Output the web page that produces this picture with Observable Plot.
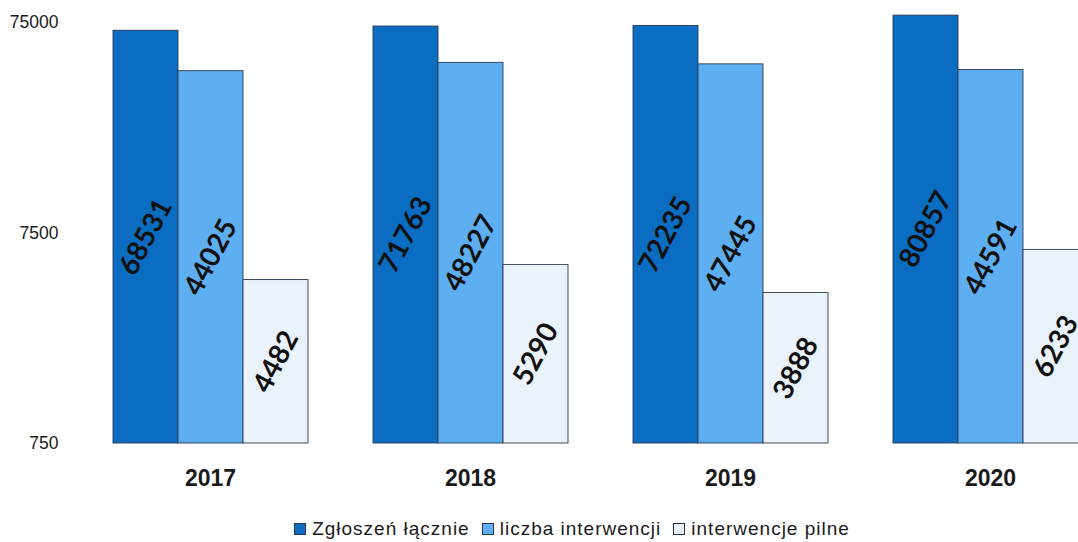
<!DOCTYPE html>
<html>
<head>
<meta charset="utf-8">
<script src="https://cdn.jsdelivr.net/npm/d3@7"></script>
<script src="https://cdn.jsdelivr.net/npm/@observablehq/plot@0.6"></script>
<style>
  html, body { margin: 0; padding: 0; background: #fff; overflow: hidden; }
  #wrap { width: 1144px; position: relative; }
  g[aria-label^="fx-axis"] text { font-weight: bold; font-size: 23px; fill: #1a1a1a; }
  #legend { display: flex; justify-content: center; align-items: center; gap: 12px;
            font-family: "Liberation Sans", Arial, sans-serif; font-size: 19px; color: #1a1a1a;
            letter-spacing: 1px; height: 27px; margin-top: 4px; }
  #legend .item { display: flex; align-items: center; gap: 6px; }
  #legend .sw { width: 12px; height: 12px; border: 1px solid #2a3550; box-sizing: border-box; }
</style>
</head>
<body>
<div id="wrap">
  <div id="chart"></div>
  <div id="legend"></div>
</div>
<script>
const years = ["2017", "2018", "2019", "2020"];
const series = ["Zgłoszeń łącznie", "liczba interwencji", "interwencje pilne"];
const colors = ["#0b6dc1", "#5eaef2", "#eaf2fb"];
const zgloszen = [68531, 71763, 72235, 80857];
const interwencje = [44025, 48227, 47445, 44591];
const pilne = [4482, 5290, 3888, 6233];
const yTicks = [750, 7500, 75000];
const yBase = 750;

const valuesBySeries = [zgloszen, interwencje, pilne];
const data = [];
years.forEach((yr, i) => {
  series.forEach((s, j) => data.push({year: yr, series: s, value: valuesBySeries[j][i]}));
});

const chart = Plot.plot({
  width: 1144,
  height: 511,
  marginLeft: 110,
  marginRight: 54,
  marginTop: 22,
  marginBottom: 68,
  style: {fontFamily: "Liberation Sans, Arial, sans-serif", fontSize: "17px", background: "#fff", overflow: "visible"},
  fx: {domain: years, paddingInner: 0.245, paddingOuter: 0, label: null, axis: "bottom", tickSize: 0, tickPadding: 26},
  x: {domain: series, padding: 0, axis: null},
  y: {type: "log", domain: [750, 75000], axis: null},
  color: {domain: series, range: colors},
  marks: [
    Plot.text(yTicks, {fx: () => years[0], y: d => d, text: d => String(d), frameAnchor: "left", textAnchor: "end", dx: -54,
      fontSize: 17.5, fill: "#1a1a1a"}),
    Plot.barY(data, {fx: "year", x: "series", y1: yBase, y2: "value", fill: "series", stroke: "#2c3a55", strokeWidth: 0.9, inset: 0}),
    Plot.text(data, {fx: "year", x: "series", y: d => Math.sqrt(yBase * d.value), text: d => String(d.value),
      rotate: -62, fontSize: 28, fontWeight: "bold", fontFamily: "Lato, 'Open Sans', sans-serif", fill: "#111"})
  ]
});
document.getElementById("chart").appendChild(chart);

const legend = document.getElementById("legend");
series.forEach((s, j) => {
  const it = document.createElement("div");
  it.className = "item";
  const sw = document.createElement("span");
  sw.className = "sw";
  sw.style.background = colors[j];
  const tx = document.createElement("span");
  tx.textContent = s;
  it.appendChild(sw); it.appendChild(tx);
  legend.appendChild(it);
});
</script>
</body>
</html>
